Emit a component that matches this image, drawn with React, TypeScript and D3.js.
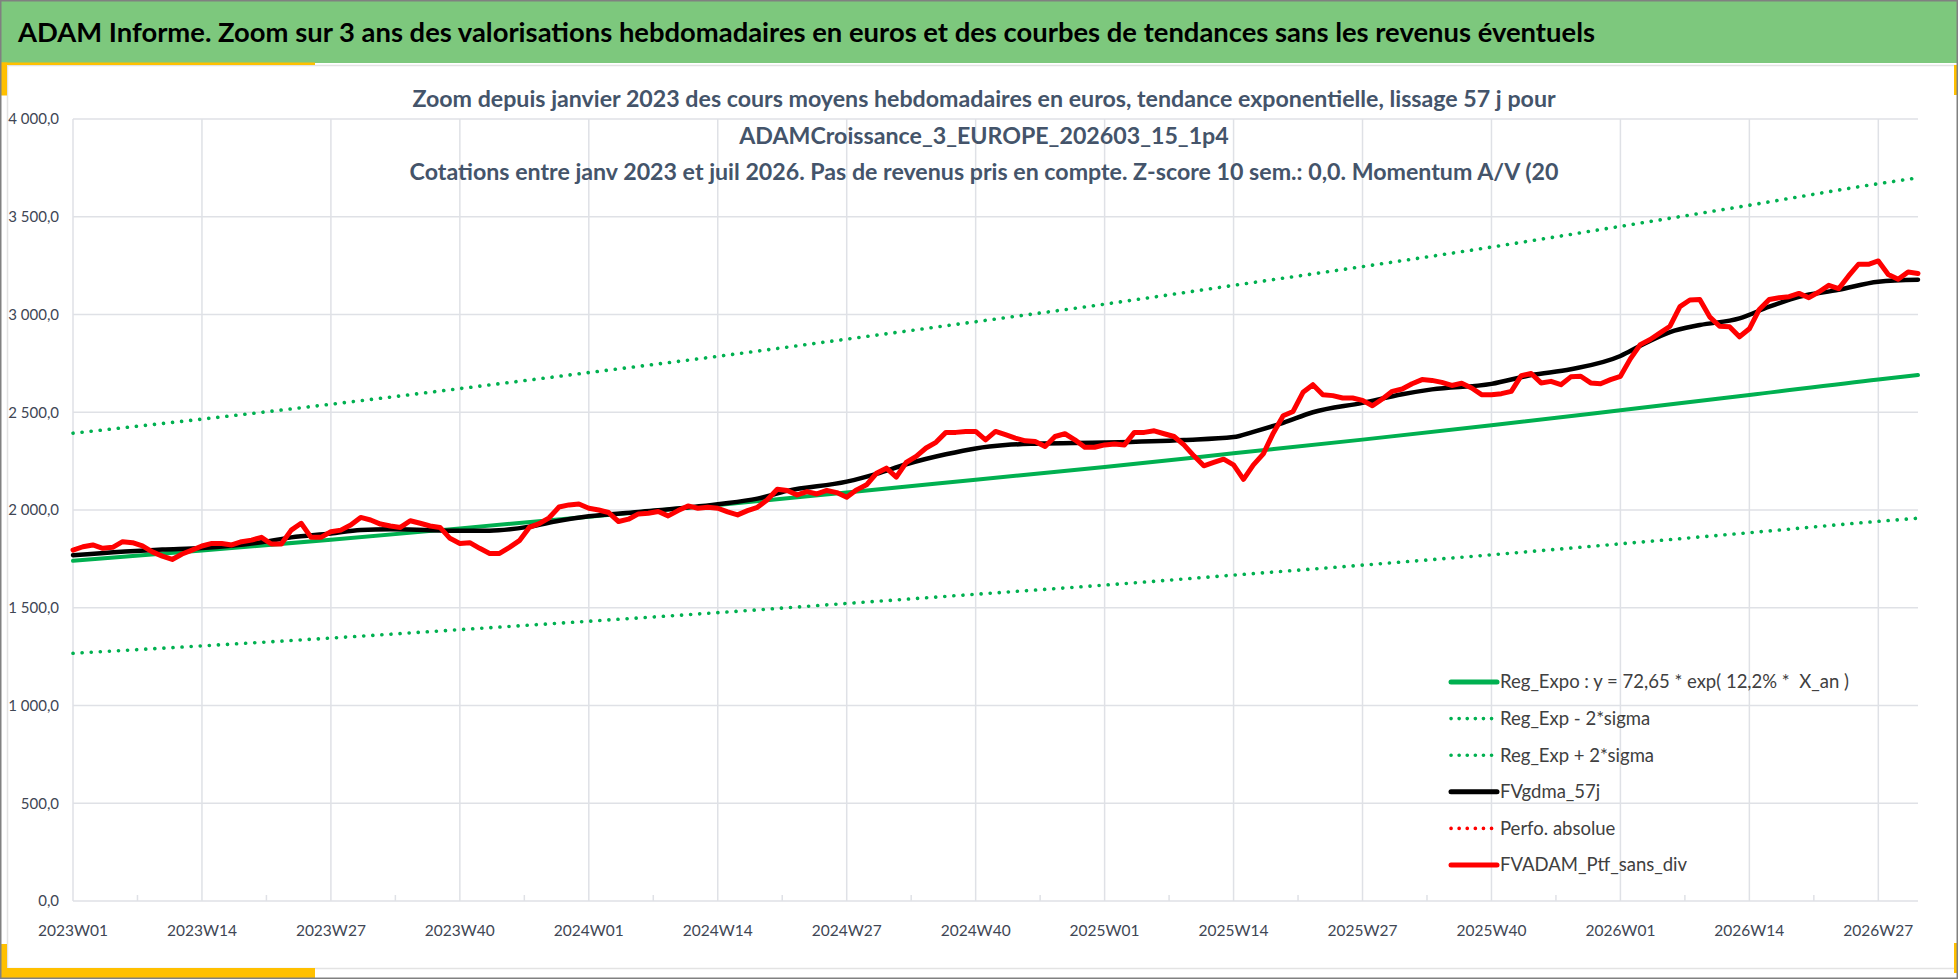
import React, { useRef, useEffect } from 'react';
import * as d3 from 'd3';

// x axis labels, one every 13 weeks
const weekLabels = [
  "2023W01", "2023W14", "2023W27", "2023W40",
  "2024W01", "2024W14", "2024W27", "2024W40",
  "2025W01", "2025W14", "2025W27", "2025W40",
  "2026W01", "2026W14", "2026W27",
];
const lastWeek = 186;

const yTicks = [0, 500, 1000, 1500, 2000, 2500, 3000, 3500, 4000];
const yTickLabels = ["0,0", "500,0", "1 000,0", "1 500,0", "2 000,0", "2 500,0", "3 000,0", "3 500,0", "4 000,0"];

// FVADAM_Ptf_sans_div, weekly values from 2023W01
const ptfValues = [
  1795, 1812, 1821, 1804, 1809, 1838, 1833, 1816, 1786, 1764, 1747, 1775, 1795,
  1816, 1829, 1829, 1821, 1838, 1846, 1860, 1826, 1826, 1897, 1932, 1860, 1860,
  1889, 1897, 1923, 1962, 1949, 1928, 1918, 1911, 1945, 1932, 1918, 1911, 1855,
  1829, 1833, 1804, 1778, 1778, 1809, 1843, 1911, 1930, 1960, 2015, 2026, 2031,
  2009, 2000, 1987, 1941, 1953, 1980, 1983, 1992, 1970, 1997, 2021, 2009, 2014,
  2009, 1990, 1975, 1997, 2014, 2052, 2106, 2100, 2077, 2094, 2082, 2100, 2089,
  2065, 2103, 2129, 2188, 2214, 2168, 2243, 2274, 2317, 2346, 2397, 2397, 2402,
  2402, 2359, 2402, 2385, 2368, 2354, 2350, 2325, 2376, 2390, 2359, 2321, 2321,
  2333, 2338, 2333, 2397, 2397, 2405, 2390, 2376, 2333, 2277, 2226, 2243, 2260,
  2231, 2157, 2231, 2287, 2393, 2482, 2504, 2602, 2641, 2590, 2585, 2573, 2573,
  2561, 2533, 2568, 2607, 2619, 2646, 2667, 2663, 2653, 2637, 2648, 2624, 2590,
  2590, 2595, 2607, 2687, 2698, 2650, 2658, 2641, 2681, 2684, 2650, 2646, 2667,
  2684, 2773, 2846, 2872, 2906, 2940, 3040, 3074, 3077, 2988, 2940, 2937, 2886,
  2927, 3026, 3077, 3086, 3091, 3108, 3086, 3115, 3149, 3132, 3197, 3257, 3257,
  3274, 3205, 3180, 3217, 3210,
];

// FVgdma_57j (smooth, read at these week indices)
const gdmaWeeks = [0, 9, 13, 19, 22, 26, 29, 32, 36, 39, 42, 46, 49, 52, 57, 65, 69, 72, 78, 81, 84, 88, 91, 94, 97,
  104, 112, 117, 119, 122, 125, 130, 134, 137, 143, 147, 151, 156, 158, 161, 164, 168, 171, 174, 178, 182, 186];
const gdmaValues = [1769, 1798, 1806, 1835, 1860, 1880, 1898, 1901, 1897, 1894, 1894, 1915, 1945, 1968, 1990, 2030, 2058, 2098, 2145, 2185, 2234, 2285, 2315, 2332, 2339,
  2345, 2358, 2373, 2400, 2446, 2500, 2548, 2592, 2617, 2645, 2690, 2720, 2788, 2840, 2910, 2946, 2980, 3040, 3090, 3126, 3168, 3178];

// regression lines, read at each label week and the last week
const regWeeks = [0, 13, 26, 39, 52, 65, 78, 91, 104, 117, 130, 143, 156, 169, 182, 186];
const regExpo = [1740, 1793, 1848, 1906, 1966, 2026, 2090, 2155, 2220, 2290, 2360, 2433, 2510, 2588, 2668, 2690];
const regLow = [1267, 1305, 1345, 1388, 1431, 1475, 1522, 1569, 1616, 1667, 1718, 1771, 1827, 1884, 1942, 1958];
const regHigh = [2393, 2465, 2541, 2621, 2703, 2786, 2874, 2963, 3053, 3149, 3245, 3345, 3451, 3559, 3669, 3699];

const legendItems = [
  { label: "Reg_Expo : y = 72,65 * exp( 12,2% *  X_an )", color: "#00B050", dotted: false },
  { label: "Reg_Exp - 2*sigma", color: "#00B050", dotted: true },
  { label: "Reg_Exp + 2*sigma", color: "#00B050", dotted: true },
  { label: "FVgdma_57j", color: "#000000", dotted: false },
  { label: "Perfo. absolue", color: "#FF0000", dotted: true },
  { label: "FVADAM_Ptf_sans_div", color: "#FF0000", dotted: false },
];

const header = "ADAM Informe. Zoom sur 3 ans des valorisations hebdomadaires en euros et des courbes de tendances sans les revenus éventuels";
const subtitleLines = [
  "Zoom depuis janvier 2023 des cours moyens hebdomadaires en euros, tendance exponentielle, lissage 57 j pour",
  "ADAMCroissance_3_EUROPE_202603_15_1p4",
  "Cotations entre janv 2023 et juil 2026. Pas de revenus pris en compte. Z-score 10 sem.: 0,0. Momentum A/V (20",
];

const W = 1958;
const H = 979;
const FONT = "Lato, 'Open Sans', sans-serif";

function App() {
  const svgRef = useRef(null);

  useEffect(() => {
    const svg = d3.select(svgRef.current);
    svg.selectAll("*").remove();

    const margin = { top: 119, right: W - 1918, bottom: H - 901, left: 73 };

    const x = d3.scaleLinear().domain([0, lastWeek]).range([margin.left, W - margin.right]);
    const y = d3.scaleLinear().domain([0, 4000]).range([H - margin.bottom, margin.top]);

    // frame
    svg.append("rect").attr("width", W).attr("height", H).attr("fill", "#fff");
    svg.append("rect").attr("x", 0).attr("y", 0).attr("width", W).attr("height", 63).attr("fill", "#7DC87D");
    svg.append("path")
      .attr("d", `M7,65.5H${W - 1}M7.5,65V968M7,968.5H${W - 1}`)
      .attr("stroke", "#e3e3e3").attr("stroke-width", 1.5).attr("fill", "none");
    const yellow = "#FFC000";
    [[0, 62.5, 315, 2.5], [0, 62.5, 7, 33], [W - 4, 65, 3, 30], [0, 944, 7, 34], [0, 968, 315, 10], [W - 4, 943, 3, 30]]
      .forEach(([rx, ry, rw, rh]) => svg.append("rect")
        .attr("x", rx).attr("y", ry).attr("width", rw).attr("height", rh).attr("fill", yellow));
    svg.append("rect").attr("x", 0.75).attr("y", 0.75).attr("width", W - 1.5).attr("height", H - 1.5)
      .attr("fill", "none").attr("stroke", "#808080").attr("stroke-width", 1.5);

    svg.append("text")
      .attr("x", 18).attr("y", 42)
      .attr("font-family", FONT).attr("font-weight", "bold").attr("font-size", 27.4)
      .attr("textLength", 1577).attr("lengthAdjust", "spacing")
      .attr("fill", "#000")
      .text(header);

    // grid
    const grid = svg.append("g").attr("stroke", "#dfe1e6").attr("stroke-width", 1.5);
    yTicks.forEach(v => grid.append("line")
      .attr("x1", margin.left).attr("x2", W - margin.right)
      .attr("y1", y(v)).attr("y2", y(v)));
    weekLabels.forEach((d, i) => grid.append("line")
      .attr("x1", x(i * 13)).attr("x2", x(i * 13))
      .attr("y1", margin.top).attr("y2", y(0)));
    weekLabels.forEach((d, i) => {
      const w = i * 13 + 6.5;
      if (w <= lastWeek) grid.append("line")
        .attr("x1", x(w)).attr("x2", x(w))
        .attr("y1", y(0) - 6).attr("y2", y(0));
    });

    // axis labels
    svg.append("g")
      .attr("font-family", FONT).attr("font-size", 15).attr("fill", "#404654").attr("text-anchor", "end")
      .selectAll("text").data(yTicks).enter().append("text")
      .attr("x", 59).attr("y", d => y(d)).attr("dy", "0.35em")
      .text((d, i) => yTickLabels[i]);

    svg.append("g")
      .attr("font-family", FONT).attr("font-size", 15.5).attr("fill", "#404654").attr("text-anchor", "middle")
      .selectAll("text").data(weekLabels).enter().append("text")
      .attr("x", (d, i) => x(i * 13)).attr("y", 936)
      .text(d => d);

    // series
    const smooth = d3.line().x(d => x(d[0])).y(d => y(d[1])).curve(d3.curveMonotoneX);
    const zipped = (weeks, vals) => weeks.map((w, i) => [w, vals[i]]);

    const drawLine = (data, color, width, dotted, gen) => {
      const p = svg.append("path")
        .datum(data)
        .attr("fill", "none")
        .attr("stroke", color)
        .attr("stroke-width", width)
        .attr("stroke-linejoin", "round")
        .attr("stroke-linecap", "round")
        .attr("d", gen);
      if (dotted) p.attr("stroke-dasharray", "0.1 9");
    };

    drawLine(zipped(regWeeks, regExpo), "#00B050", 4, false, smooth);
    drawLine(zipped(regWeeks, regLow), "#00B050", 3.6, true, smooth);
    drawLine(zipped(regWeeks, regHigh), "#00B050", 3.6, true, smooth);
    drawLine(zipped(gdmaWeeks, gdmaValues), "#000000", 4.5, false, smooth);
    drawLine(ptfValues.map((v, i) => [i, v]), "#FF0000", 5,
      false, d3.line().x(d => x(d[0])).y(d => y(d[1])));

    // subtitle, drawn over the plot like the original
    svg.append("g")
      .attr("font-family", FONT).attr("font-weight", "bold").attr("font-size", 23.2)
      .attr("fill", "#44546A").attr("text-anchor", "middle")
      .selectAll("text").data(subtitleLines).enter().append("text")
      .attr("x", 984).attr("y", (d, i) => [107, 144, 180][i])
      .text(d => d);

    // legend
    const legend = svg.append("g")
      .attr("font-family", FONT).attr("font-size", 18.5)
      .selectAll("g").data(legendItems).enter().append("g")
      .attr("transform", (d, i) => `translate(1450,${682 + i * 36.6})`);

    legend.append("line")
      .attr("x1", 1).attr("x2", 47)
      .attr("stroke", d => d.color)
      .attr("stroke-width", d => d.dotted ? 3.6 : 5)
      .attr("stroke-linecap", "round")
      .attr("stroke-dasharray", d => d.dotted ? "0.1 8" : null);

    legend.append("text")
      .attr("x", 50).attr("dy", "0.35em")
      .attr("fill", "#404040")
      .style("white-space", "pre")
      .text(d => d.label);
  }, []);

  return (
    <div style={{ position: 'fixed', left: 0, top: 0 }}>
      <svg ref={svgRef} width={W} height={H} viewBox={`0 0 ${W} ${H}`} style={{ display: 'block' }} />
    </div>
  );
}

export default App;
